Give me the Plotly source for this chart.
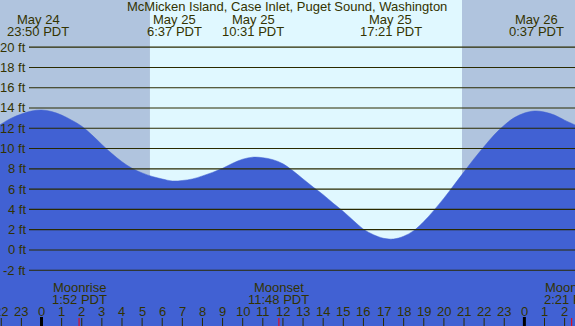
import plotly.graph_objects as go

# ---------------- data ----------------
title_text = "McMicken Island, Case Inlet, Puget Sound, Washington"

# tide curve every half hour (hours from midnight May 25, feet)
tide_hours = [-2.1, -1.5, -1, -0.5, 0, 0.5, 1, 1.5, 2, 2.5, 3, 3.5, 4, 4.5, 5, 5.5, 6, 6.5,
              7, 7.5, 8, 8.5, 9, 9.5, 10, 10.5, 11, 11.5, 12, 12.5, 13, 13.5, 14, 14.5,
              15, 15.5, 16, 16.5, 17, 17.5, 18, 18.5, 19, 19.5, 20, 20.5, 21, 21.5, 22,
              22.5, 23, 23.5, 24, 24.5, 25, 25.5, 26, 26.55]
tide_ft = [12.3, 13.0, 13.4, 13.7, 13.8, 13.65, 13.3, 12.8, 12.2, 11.35, 10.4, 9.5, 8.7,
           8.05, 7.6, 7.25, 7.0, 6.8, 6.85, 7.0, 7.3, 7.65, 8.05, 8.55, 8.95, 9.15, 9.1,
           8.9, 8.5, 7.8, 7.0, 6.2, 5.45, 4.6, 3.8, 2.9, 2.05, 1.5, 1.15, 1.08, 1.35, 1.9,
           2.8, 3.9, 5.1, 6.4, 7.7, 9.0, 10.2, 11.35, 12.3, 13.05, 13.5, 13.7, 13.6, 13.3,
           12.8, 12.3]

# high / low tide labels
ext_hours = [-0.17, 6.62, 10.52, 17.35, 24.62]
ext_dates = ["May 24", "May 25", "May 25", "May 25", "May 26"]
ext_times = ["23:50 PDT", "6:37 PDT", "10:31 PDT", "17:21 PDT", "0:37 PDT"]

# moon events
moon_hours = [1.867, 11.8, 26.35]
moon_names = ["Moonrise", "Moonset", "Moonrise"]
moon_times = ["1:52 PDT", "11:48 PDT", "2:21 PDT"]

# daylight
sunrise_hour = 5.39
sunset_hour = 20.90

# axis ticks
ft_ticks = [-2, 0, 2, 4, 6, 8, 10, 12, 14, 16, 18, 20]
ft_labels = ["-2 ft", "0 ft", "2 ft", "4 ft", "6 ft", "8 ft", "10 ft", "12 ft",
             "14 ft", "16 ft", "18 ft", "20 ft"]
hour_ticks = list(range(-2, 27))
hour_labels = [str(h % 24) for h in hour_ticks]

# ---------------- style ----------------
W, H = 575, 326
X_RANGE = [-2.063, 26.516]
Y_RANGE = [-7.5, 24.65]
TXT = "#333300"
FONT = "Liberation Sans, Arial, sans-serif"
FS = 13
NIGHT = "#b0c4de"
DAY = "#e0f8ff"
FILL = "#4161d3"


def py(pix):
    return 1 - pix / H


fig = go.Figure()

# baseline for fill
fig.add_trace(go.Scatter(x=[tide_hours[0], tide_hours[-1]], y=[Y_RANGE[0] - 1] * 2,
                         mode="lines", line=dict(width=0), hoverinfo="skip",
                         showlegend=False))
fig.add_trace(go.Scatter(x=tide_hours, y=tide_ft, mode="lines", fill="tonexty",
                         fillcolor=FILL,
                         line=dict(color=FILL, width=0.5, shape="spline", smoothing=1,
                                   simplify=False),
                         hoverinfo="skip", showlegend=False))

shapes = []
# night / day backgrounds
shapes.append(dict(type="rect", xref="x", yref="paper", x0=X_RANGE[0] - 1, x1=X_RANGE[1] + 1,
                   y0=0, y1=1, fillcolor=NIGHT, line=dict(width=0), layer="below"))
shapes.append(dict(type="rect", xref="x", yref="paper", x0=sunrise_hour, x1=sunset_hour,
                   y0=0, y1=1, fillcolor=DAY, line=dict(width=0), layer="below"))
# horizontal grid lines
for v in ft_ticks:
    shapes.append(dict(type="line", xref="paper", yref="y", x0=29 / W, x1=1, y0=v, y1=v,
                       line=dict(color="#2a2a00", width=1.1), layer="above"))
# hour ticks
for h, lab in zip(hour_ticks, hour_labels):
    if lab == "0":
        shapes.append(dict(type="line", xref="x", yref="paper", x0=h, x1=h,
                           y0=py(326), y1=py(317), line=dict(color="#000000", width=3),
                           layer="above"))
    else:
        shapes.append(dict(type="line", xref="x", yref="paper", x0=h, x1=h,
                           y0=py(326), y1=py(318), line=dict(color="#2a2a00", width=1),
                           layer="above"))
# moon ticks
for h in moon_hours:
    shapes.append(dict(type="line", xref="x", yref="paper", x0=h, x1=h,
                       y0=py(326), y1=py(318), line=dict(color="#ff0000", width=1),
                       layer="above"))

ann = []
fnt = dict(family=FONT, size=FS, color=TXT)
ann.append(dict(text=title_text, xref="paper", yref="paper", x=287 / W, y=py(7),
                showarrow=False, font=fnt, xanchor="center", yanchor="middle"))
for h, d, t in zip(ext_hours, ext_dates, ext_times):
    ann.append(dict(text=d, xref="x", yref="paper", x=h, y=py(20), showarrow=False,
                    font=fnt, xanchor="center", yanchor="middle"))
    ann.append(dict(text=t, xref="x", yref="paper", x=h, y=py(32), showarrow=False,
                    font=fnt, xanchor="center", yanchor="middle"))
for v, lab in zip(ft_ticks, ft_labels):
    ann.append(dict(text=lab, xref="paper", yref="y", x=27.5 / W, y=v, showarrow=False,
                    font=fnt, xanchor="right", yanchor="middle"))
for h, n, t in zip(moon_hours, moon_names, moon_times):
    ann.append(dict(text=n, xref="x", yref="paper", x=h, y=py(287), showarrow=False,
                    font=fnt, xanchor="center", yanchor="middle"))
    ann.append(dict(text=t, xref="x", yref="paper", x=h, y=py(299.5), showarrow=False,
                    font=fnt, xanchor="center", yanchor="middle"))
for h, lab in zip(hour_ticks, hour_labels):
    ann.append(dict(text=lab, xref="x", yref="paper", x=h, y=py(311.5), showarrow=False,
                    font=fnt, xanchor="center", yanchor="middle"))

fig.update_layout(
    width=W, height=H, margin=dict(l=0, r=0, t=0, b=0, pad=0),
    paper_bgcolor=NIGHT, plot_bgcolor=NIGHT,
    xaxis=dict(range=X_RANGE, visible=False, fixedrange=True),
    yaxis=dict(range=Y_RANGE, visible=False, fixedrange=True),
    shapes=shapes, annotations=ann, showlegend=False,
)

fig.write_html("out.html", config={"displayModeBar": False, "staticPlot": True},
               post_script="document.body.style.margin='0';")
